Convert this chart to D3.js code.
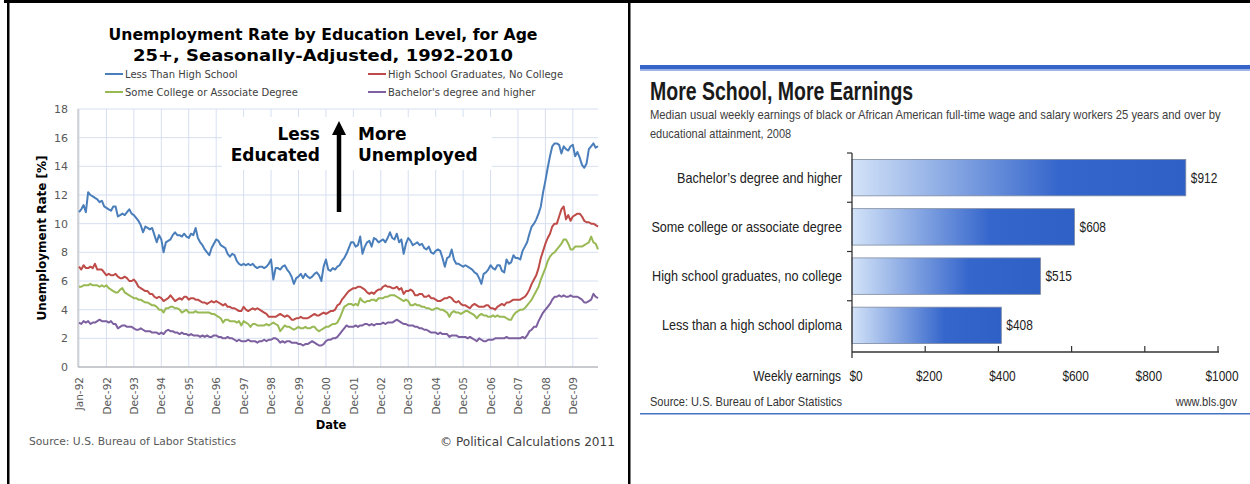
<!DOCTYPE html>
<html>
<head>
<meta charset="utf-8">
<script src="https://cdn.jsdelivr.net/npm/d3@7/dist/d3.min.js"></script>
<style>
  html, body { margin: 0; padding: 0; background: #fff; }
  svg { display: block; }
</style>
</head>
<body>
<div id="vis"></div>
<script>
// ==== DATA: unemployment rate by education, monthly Jan-92 .. Dec-10 ====
const seriesNames = ["Less Than High School", "High School Graduates, No College",
  "Some College or Associate Degree", "Bachelor's degree and higher"];

const lessThanHS = [
  10.8, 11.0, 11.3, 10.8, 12.2, 12.0, 11.9, 11.8, 11.7, 11.5, 11.6, 11.2,
  11.1, 11.0, 10.9, 11.2, 11.2, 10.5, 10.6, 10.7, 10.6, 10.8, 11.0, 10.7,
  10.6, 10.4, 10.2, 9.9, 9.4, 9.8, 9.7, 9.6, 9.7, 9.2, 8.7, 9.2,
  8.9, 8.0, 8.7, 8.8, 8.9, 9.2, 9.4, 9.2, 9.2, 9.1, 9.3, 9.1,
  9.0, 9.3, 9.2, 9.7, 9.0, 8.7, 8.5, 8.2, 8.0, 7.8, 8.3, 8.6,
  8.9, 8.8, 8.5, 8.4, 8.3, 7.9, 7.7, 7.9, 7.8, 7.4, 7.2, 7.1,
  7.2, 7.1, 7.2, 7.1, 7.2, 7.0, 6.9, 7.0, 7.0, 6.9, 7.0, 7.2,
  7.5, 6.1, 6.9, 6.9, 6.8, 7.0, 7.1, 6.8, 6.6, 6.3, 5.8, 6.2,
  6.3, 6.5, 6.2, 6.5, 6.3, 6.2, 6.3, 6.5, 6.6, 6.4, 6.0, 7.0,
  7.5, 6.8, 6.7, 6.9, 6.8, 7.0, 7.1, 7.4, 7.6, 7.9, 8.3, 8.7,
  8.7, 8.4, 8.5, 9.1, 7.9, 8.4, 8.7, 8.8, 8.4, 9.0, 8.9, 8.7,
  8.8, 8.9, 8.7, 9.0, 9.4, 9.0, 8.9, 9.3, 8.7, 8.9, 7.9, 8.6,
  9.0, 8.8, 8.5, 8.6, 8.7, 8.5, 8.6, 8.3, 8.2, 8.4, 8.0, 7.9,
  8.1, 8.2, 8.1, 7.6, 7.0, 7.6, 7.7, 8.2, 7.5, 7.2, 7.2, 7.1,
  7.0, 7.1, 7.0, 6.9, 6.8, 6.6, 6.5, 6.2, 5.8, 6.5, 6.6, 6.8,
  7.1, 6.9, 6.8, 7.1, 7.1, 6.7, 6.6, 7.5, 7.2, 7.3, 7.8, 7.6,
  7.6, 7.5, 8.1, 8.4, 8.7, 9.3, 9.8, 10.0, 10.3, 10.7, 11.2, 12.2,
  13.0, 13.9, 14.7, 15.4, 15.6, 15.6, 15.5, 14.9, 15.4, 15.2, 15.1, 15.4,
  15.5, 14.7, 15.0, 14.6, 14.1, 13.9, 14.2, 15.2, 15.4, 15.6, 15.3, 15.4
];

const hsGrad = [
  7.0, 6.8, 7.1, 6.9, 6.9, 7.0, 6.9, 7.2, 6.8, 6.8, 6.8, 6.6,
  6.4, 6.5, 6.4, 6.4, 6.5, 6.3, 6.2, 6.2, 6.3, 6.2, 6.0, 6.0,
  6.1, 5.9, 5.6, 5.5, 5.4, 5.3, 5.3, 5.1, 5.1, 4.9, 4.8, 4.9,
  4.8, 4.6, 4.7, 4.8, 5.0, 4.8, 4.6, 4.7, 4.8, 4.7, 4.9, 4.9,
  4.7, 4.8, 4.8, 4.7, 4.7, 4.6, 4.5, 4.5, 4.4, 4.5, 4.6, 4.5,
  4.6, 4.5, 4.4, 4.3, 4.4, 4.2, 4.2, 4.1, 4.1, 4.0, 3.9, 3.9,
  4.2, 4.0, 3.9, 4.0, 4.1, 4.0, 4.1, 4.0, 3.9, 3.8, 3.7, 3.5,
  3.5, 3.5, 3.5, 3.6, 3.7, 3.6, 3.5, 3.6, 3.5, 3.3, 3.3, 3.4,
  3.4, 3.5, 3.4, 3.4, 3.4, 3.5, 3.6, 3.7, 3.6, 3.6, 3.7, 3.8,
  3.7, 3.8, 3.9, 3.9, 4.0, 4.3, 4.4, 4.7, 4.9, 5.1, 5.3, 5.4,
  5.5, 5.5, 5.6, 5.6, 5.5, 5.4, 5.2, 5.1, 5.2, 5.1, 5.3, 5.4,
  5.4, 5.6, 5.7, 5.6, 5.6, 5.5, 5.5, 5.6, 5.4, 5.5, 5.1, 5.3,
  5.3, 5.4, 5.3, 5.0, 5.0, 5.1, 5.1, 4.9, 4.9, 5.0, 4.8, 4.8,
  4.7, 4.6, 4.6, 4.7, 4.8, 4.8, 4.9, 4.8, 4.6, 4.5, 4.6, 4.4,
  4.3, 4.3, 4.2, 4.1, 4.3, 4.4, 4.3, 4.2, 4.2, 4.2, 4.3, 4.3,
  4.1, 4.1, 4.0, 4.2, 4.3, 4.4, 4.3, 4.5, 4.5, 4.6, 4.7, 4.7,
  4.7, 4.7, 4.8, 4.9, 5.1, 5.4, 5.8, 6.1, 6.4, 6.9, 7.6, 8.1,
  8.6, 9.0, 9.3, 9.8, 10.0, 10.0, 10.5, 11.0, 11.2, 10.3, 10.6, 10.2,
  10.5, 10.6, 10.7, 10.7, 10.5, 10.2, 10.1, 10.1, 10.0, 10.0, 9.9, 9.8
];

const someCollege = [
  5.6, 5.6, 5.7, 5.7, 5.7, 5.8, 5.7, 5.7, 5.7, 5.6, 5.7, 5.6,
  5.7, 5.5, 5.4, 5.3, 5.2, 5.2, 5.4, 5.5, 5.2, 5.1, 5.0, 4.9,
  4.8, 4.8, 4.7, 4.7, 4.6, 4.5, 4.5, 4.4, 4.3, 4.3, 4.2, 4.0,
  4.0, 3.8, 4.1, 4.1, 4.2, 4.2, 4.1, 4.1, 4.0, 3.8, 3.9, 4.0,
  3.8, 3.8, 3.8, 3.9, 3.8, 3.8, 3.8, 3.8, 3.8, 3.8, 3.7, 3.7,
  3.6, 3.5, 3.4, 3.1, 3.3, 3.3, 3.2, 3.2, 3.2, 3.1, 3.2, 2.9,
  3.2, 3.1, 3.0, 2.8, 3.0, 3.0, 2.9, 2.9, 2.9, 2.9, 3.0, 2.9,
  3.0, 3.1, 3.0, 2.9, 2.5, 2.7, 2.9, 2.8, 2.8, 2.7, 2.6, 2.7,
  2.8, 2.7, 2.7, 2.8, 2.7, 2.7, 2.8, 2.8, 2.6, 2.5, 2.6, 2.7,
  2.8, 2.8, 2.9, 3.0, 3.0, 3.1, 3.4, 3.8, 4.2, 4.3, 4.4, 4.4,
  4.3, 4.4, 4.3, 4.8, 4.6, 4.5, 4.6, 4.6, 4.7, 4.7, 4.6, 4.8,
  4.8, 4.8, 4.9, 4.9, 5.0, 5.0, 5.0, 4.9, 4.8, 4.7, 4.6, 4.7,
  4.6, 4.3, 4.3, 4.4, 4.3, 4.3, 4.2, 4.2, 4.1, 4.1, 4.0, 4.0,
  4.1, 4.1, 4.0, 4.0, 3.9, 3.8, 3.5, 3.8, 3.9, 3.8, 3.8, 3.7,
  3.8, 3.9, 3.9, 3.8, 3.7, 3.6, 3.4, 3.6, 3.7, 3.6, 3.6, 3.5,
  3.5, 3.6, 3.5, 3.6, 3.5, 3.5, 3.5, 3.4, 3.3, 3.3, 3.6, 3.8,
  3.9, 4.0, 4.0, 4.1, 4.3, 4.5, 4.7, 5.0, 5.3, 5.6, 6.1, 6.5,
  6.9, 7.4, 7.7, 7.9, 8.0, 8.2, 8.4, 8.6, 8.9, 8.9, 8.6, 8.2,
  8.2, 8.4, 8.4, 8.4, 8.4, 8.5, 8.6, 8.7, 9.1, 8.7, 8.6, 8.2
];

const bachelors = [
  3.1, 3.0, 3.2, 3.1, 3.2, 3.0, 3.1, 3.1, 3.2, 3.3, 3.2, 3.2,
  3.2, 3.1, 3.2, 3.0, 3.0, 2.7, 2.8, 2.9, 2.9, 2.8, 2.8, 2.8,
  2.7, 2.6, 2.6, 2.7, 2.6, 2.5, 2.5, 2.5, 2.4, 2.4, 2.4, 2.3,
  2.4, 2.3, 2.5, 2.6, 2.5, 2.5, 2.4, 2.4, 2.3, 2.4, 2.3, 2.3,
  2.2, 2.3, 2.2, 2.2, 2.2, 2.1, 2.2, 2.1, 2.2, 2.1, 2.1, 2.2,
  2.2, 2.1, 2.1, 2.0, 2.0, 2.1, 2.0, 2.0, 1.9, 1.8, 1.9, 1.8,
  1.8, 1.8, 1.9, 1.8, 1.8, 1.8, 1.7, 1.8, 1.8, 1.9, 1.8, 1.9,
  1.9, 2.0, 2.0, 1.9, 1.7, 1.8, 1.7, 1.8, 1.8, 1.7, 1.7, 1.7,
  1.6, 1.6, 1.5, 1.6, 1.6, 1.7, 1.8, 1.7, 1.6, 1.5, 1.5, 1.6,
  1.8, 1.9, 1.9, 2.0, 2.0, 2.1, 2.3, 2.5, 2.7, 2.9, 2.8, 2.8,
  2.8, 2.9, 2.8, 2.9, 2.9, 3.0, 3.0, 2.9, 3.0, 2.9, 3.0, 3.0,
  3.0, 3.1, 3.0, 3.1, 3.1, 3.1, 3.2, 3.3, 3.2, 3.1, 3.0, 3.0,
  2.9, 2.9, 2.9, 2.8, 2.8, 2.7, 2.7, 2.6, 2.6, 2.5, 2.4, 2.4,
  2.4, 2.3, 2.4, 2.3, 2.3, 2.3, 2.1, 2.2, 2.2, 2.2, 2.1, 2.1,
  2.1, 2.1, 2.0, 2.1, 2.0, 1.9, 1.8, 2.0, 1.9, 1.8, 1.8, 1.9,
  1.9, 1.9, 2.0, 2.0, 2.0, 2.0, 2.0, 2.1, 2.0, 2.0, 2.0, 2.0,
  2.0, 2.0, 2.1, 2.0, 2.2, 2.5, 2.6, 2.8, 2.8, 3.2, 3.5, 3.8,
  4.0, 4.2, 4.4, 4.7, 4.9, 4.9, 5.0, 4.9, 5.0, 4.9, 4.9, 5.0,
  4.9, 4.9, 4.9, 4.8, 4.7, 4.5, 4.5, 4.6, 4.7, 5.1, 4.9, 4.8
];

const yTicks = [0, 2, 4, 6, 8, 10, 12, 14, 16, 18];
const xTickLabels = ["Jan-92", "Dec-92", "Dec-93", "Dec-94", "Dec-95", "Dec-96", "Dec-97",
  "Dec-98", "Dec-99", "Dec-00", "Dec-01", "Dec-02", "Dec-03", "Dec-04", "Dec-05",
  "Dec-06", "Dec-07", "Dec-08", "Dec-09"];

// ==== DATA: weekly earnings 2008 ====
const eduCats = ["Bachelor\u2019s degree and higher", "Some college or associate degree",
  "High school graduates, no college", "Less than a high school diploma"];
const earnings = [912, 608, 515, 408];
const earnTicks = [0, 200, 400, 600, 800, 1000];

// ==== SETUP ====
const width = 1250, height = 484;
const svg = d3.select("#vis")
  .append("svg")
  .attr("width", width)
  .attr("height", height);

const VERD = "'DejaVu Sans', Verdana, sans-serif";
const COND = "'Liberation Sans', Arial, sans-serif";

// squeeze text horizontally so it looks like a condensed face
// (uses a transform so the real box shrinks too)
function condense(sel, factor) {
  sel.each(function() {
    const t = d3.select(this);
    const tx = +t.attr("x"), ty = +t.attr("y");
    t.attr("x", 0).attr("y", 0)
      .attr("transform", `translate(${tx},${ty}) scale(${factor},1)`);
  });
}

// frame lines
svg.append("rect").attr("x", 4).attr("y", 0).attr("width", 1246).attr("height", 3).attr("fill", "#000");
svg.append("rect").attr("x", 7).attr("y", 0).attr("width", 2.5).attr("height", height).attr("fill", "#000");
svg.append("rect").attr("x", 628).attr("y", 0).attr("width", 2.5).attr("height", height).attr("fill", "#000");

// ==== LEFT: UNEMPLOYMENT LINES ====
function drawUnemployment() {
  const g = svg.append("g");
  const x = d3.scaleLinear().domain([0, lessThanHS.length - 1]).range([79, 598]);
  const y = d3.scaleLinear().domain([0, 18]).range([367, 109]);
  const tickIdx = xTickLabels.map((d, i) => i * 12);

  // gridlines
  g.selectAll(".hgrid").data(yTicks).enter().append("line")
    .attr("x1", 78).attr("x2", 598)
    .attr("y1", d => y(d)).attr("y2", d => y(d))
    .attr("stroke", "#d6dff0").attr("stroke-width", 1);
  g.selectAll(".vgrid").data(tickIdx).enter().append("line")
    .attr("x1", d => x(d)).attr("x2", d => x(d))
    .attr("y1", y(18)).attr("y2", y(0))
    .attr("stroke", "#d6dff0").attr("stroke-width", 1);

  // axis lines
  g.append("line").attr("x1", 78).attr("x2", 78).attr("y1", y(18)).attr("y2", y(0))
    .attr("stroke", "#b3b3b3");
  g.append("line").attr("x1", 78).attr("x2", 598).attr("y1", y(0)).attr("y2", y(0))
    .attr("stroke", "#a6a6a6");

  // y ticks
  const ya = g.append("g").attr("transform", "translate(78,0)")
    .call(d3.axisLeft(y).tickValues(yTicks).tickSize(0).tickPadding(10));
  ya.select(".domain").remove();
  ya.selectAll("text").style("font-family", VERD).style("font-size", "11px").attr("fill", "#595959");

  // x ticks, rotated
  const xa = g.append("g").attr("transform", `translate(0,${y(0)})`)
    .call(d3.axisBottom(x).tickValues(tickIdx).tickSize(0).tickFormat((d, i) => xTickLabels[i]));
  xa.select(".domain").remove();
  xa.selectAll("text")
    .attr("transform", "rotate(-90)")
    .attr("x", -10).attr("y", 0).attr("dy", "0.35em")
    .style("text-anchor", "end")
    .style("font-family", VERD).style("font-size", "10.5px").attr("fill", "#595959");

  // white box behind annotation
  g.append("rect").attr("x", 222).attr("y", 117).attr("width", 270).attr("height", 53).attr("fill", "#fff");

  // series
  const series = [lessThanHS, hsGrad, someCollege, bachelors];
  const colors = ["#4a7ebb", "#be4b48", "#98b954", "#7d60a0"];
  const line = d3.line().x((d, i) => x(i)).y(d => y(d));
  g.selectAll(".series").data(series).enter().append("path")
    .attr("d", line)
    .attr("fill", "none")
    .attr("stroke", (d, i) => colors[i])
    .attr("stroke-width", 2)
    .attr("stroke-linejoin", "round");

  // title
  g.append("text").attr("x", 323).attr("y", 40).attr("text-anchor", "middle")
    .style("font-family", VERD).style("font-weight", "bold").style("font-size", "15px")
    .attr("textLength", 429).attr("lengthAdjust", "spacingAndGlyphs")
    .text("Unemployment Rate by Education Level, for Age");
  g.append("text").attr("x", 323).attr("y", 61).attr("text-anchor", "middle")
    .style("font-family", VERD).style("font-weight", "bold").style("font-size", "15px")
    .attr("textLength", 380).attr("lengthAdjust", "spacingAndGlyphs")
    .text("25+, Seasonally-Adjusted, 1992-2010");

  // legend
  const leg = g.selectAll(".leg").data(seriesNames).enter().append("g")
    .attr("transform", (d, i) => `translate(${i % 2 ? 368 : 105},${i < 2 ? 74 : 92})`);
  leg.append("line").attr("x1", 0).attr("x2", 18).attr("y1", 0).attr("y2", 0)
    .attr("stroke", (d, i) => colors[i]).attr("stroke-width", 2);
  leg.append("text").attr("x", 20).attr("y", 4)
    .style("font-family", VERD).style("font-size", "10px").attr("fill", "#404040")
    .text(d => d);

  // axis titles
  g.append("text").attr("transform", "translate(46,238) rotate(-90)").attr("text-anchor", "middle")
    .style("font-family", VERD).style("font-weight", "bold").style("font-size", "12px")
    .text("Unemployment Rate [%]");
  g.append("text").attr("x", 331).attr("y", 429).attr("text-anchor", "middle")
    .style("font-family", VERD).style("font-weight", "bold").style("font-size", "11.5px")
    .text("Date");

  // annotation
  const ann = [["Less", 320, 140, "end"], ["Educated", 320, 161, "end"],
               ["More", 358, 140, "start"], ["Unemployed", 358, 161, "start"]];
  g.selectAll(".ann").data(ann).enter().append("text")
    .attr("x", d => d[1]).attr("y", d => d[2]).attr("text-anchor", d => d[3])
    .style("font-family", VERD).style("font-weight", "bold").style("font-size", "17px")
    .text(d => d[0]);
  g.append("line").attr("x1", 339).attr("x2", 339).attr("y1", 212).attr("y2", 132)
    .attr("stroke", "#000").attr("stroke-width", 4.5);
  g.append("path").attr("d", "M332,135 L346,135 L339,121 Z").attr("fill", "#000");

  // footer
  g.append("text").attr("x", 29).attr("y", 445)
    .style("font-family", VERD).style("font-size", "10px").attr("fill", "#595959")
    .attr("textLength", 207).attr("lengthAdjust", "spacingAndGlyphs")
    .text("Source: U.S. Bureau of Labor Statistics");
  g.append("text").attr("x", 615).attr("y", 446).attr("text-anchor", "end")
    .style("font-family", VERD).style("font-size", "11.5px").attr("fill", "#404040")
    .attr("textLength", 175).attr("lengthAdjust", "spacingAndGlyphs")
    .text("\u00a9 Political Calculations 2011");
}

// ==== RIGHT: EARNINGS BARS ====
function drawEarnings() {
  const g = svg.append("g");
  const x = d3.scaleLinear().domain([0, 1000]).range([852, 1218]);
  const y = d3.scaleBand().domain(eduCats).range([153, 350]).paddingInner(0.26).paddingOuter(0.13);

  const defs = svg.append("defs");
  const grad = defs.append("linearGradient").attr("id", "barGrad")
    .attr("x1", "0").attr("x2", "1").attr("y1", "0").attr("y2", "0");
  grad.append("stop").attr("offset", "0").attr("stop-color", "#d3e3f8");
  grad.append("stop").attr("offset", "0.62").attr("stop-color", "#3566cc");
  grad.append("stop").attr("offset", "1").attr("stop-color", "#2f60c6");

  // top band
  g.append("rect").attr("x", 640).attr("y", 65).attr("width", 610).attr("height", 4.5).attr("fill", "#3565c8");
  g.append("rect").attr("x", 640).attr("y", 69.5).attr("width", 610).attr("height", 1.5).attr("fill", "#9db8e8");

  // titles
  g.append("text").attr("x", 650).attr("y", 100)
    .style("font-family", COND).style("font-weight", "bold").style("font-size", "25px").attr("fill", "#1a1a1a")
    .text("More School, More Earnings")
    .call(condense, 0.78);
  g.append("text").attr("x", 650).attr("y", 119)
    .style("font-family", COND).style("font-size", "12.5px").attr("fill", "#404040")
    .text("Median usual weekly earnings of black or African American full-time wage and salary workers 25 years and over by")
    .call(condense, 0.9);
  g.append("text").attr("x", 650).attr("y", 138)
    .style("font-family", COND).style("font-size", "12.5px").attr("fill", "#404040")
    .text("educational attainment, 2008")
    .call(condense, 0.88);

  // bars
  g.selectAll(".bar").data(earnings).enter().append("rect")
    .attr("x", x(0))
    .attr("y", (d, i) => y(eduCats[i]))
    .attr("width", d => x(d) - x(0))
    .attr("height", y.bandwidth())
    .attr("fill", "url(#barGrad)")
    .attr("stroke", "#7f8aa0").attr("stroke-width", 0.8);

  // value labels
  g.selectAll(".val").data(earnings).enter().append("text")
    .attr("x", d => x(d) + 5)
    .attr("y", (d, i) => y(eduCats[i]) + y.bandwidth() / 2 + 5)
    .style("font-family", COND).style("font-size", "14px").attr("fill", "#222")
    .text(d => "$" + d)
    .call(condense, 0.85);

  // category labels
  g.selectAll(".cat").data(eduCats).enter().append("text")
    .attr("x", 842)
    .attr("y", d => y(d) + y.bandwidth() / 2 + 5)
    .attr("text-anchor", "end")
    .style("font-family", COND).style("font-size", "14.5px").attr("fill", "#222")
    .text(d => d)
    .call(condense, 0.87);

  // y axis with ticks between bands
  g.append("line").attr("x1", x(0)).attr("x2", x(0)).attr("y1", 153).attr("y2", 358)
    .attr("stroke", "#333").attr("stroke-width", 1.3);
  const bounds = eduCats.map(d => y(d) - y.step() * y.paddingInner() / 2);
  g.selectAll(".ytick").data(bounds).enter().append("line")
    .attr("x1", x(0) - 5).attr("x2", x(0))
    .attr("y1", d => d).attr("y2", d => d)
    .attr("stroke", "#333").attr("stroke-width", 1.2);

  // x axis
  g.append("line").attr("x1", x(0)).attr("x2", x(1000) + 1).attr("y1", 352).attr("y2", 352)
    .attr("stroke", "#333").attr("stroke-width", 1.3);
  g.selectAll(".xtick").data(earnTicks.slice(1)).enter().append("line")
    .attr("x1", d => x(d)).attr("x2", d => x(d)).attr("y1", 346).attr("y2", 352)
    .attr("stroke", "#333").attr("stroke-width", 1.2);
  g.selectAll(".xlab").data(earnTicks).enter().append("text")
    .attr("x", d => x(d) + 4).attr("y", 381).attr("text-anchor", "middle")
    .style("font-family", COND).style("font-size", "14px").attr("fill", "#222")
    .text(d => "$" + d)
    .call(condense, 0.85);
  g.append("text").attr("x", 841).attr("y", 381).attr("text-anchor", "end")
    .style("font-family", COND).style("font-size", "14px").attr("fill", "#222")
    .text("Weekly earnings")
    .call(condense, 0.85);

  // footer
  g.append("text").attr("x", 650).attr("y", 406)
    .style("font-family", COND).style("font-size", "13px").attr("fill", "#333")
    .text("Source: U.S. Bureau of Labor Statistics")
    .call(condense, 0.85);
  g.append("text").attr("x", 1237).attr("y", 406).attr("text-anchor", "end")
    .style("font-family", COND).style("font-size", "13px").attr("fill", "#333")
    .text("www.bls.gov")
    .call(condense, 0.85);
  g.append("rect").attr("x", 640).attr("y", 413).attr("width", 610).attr("height", 1.5).attr("fill", "#4472c4");
}

drawUnemployment();
drawEarnings();
</script>
</body>
</html>
